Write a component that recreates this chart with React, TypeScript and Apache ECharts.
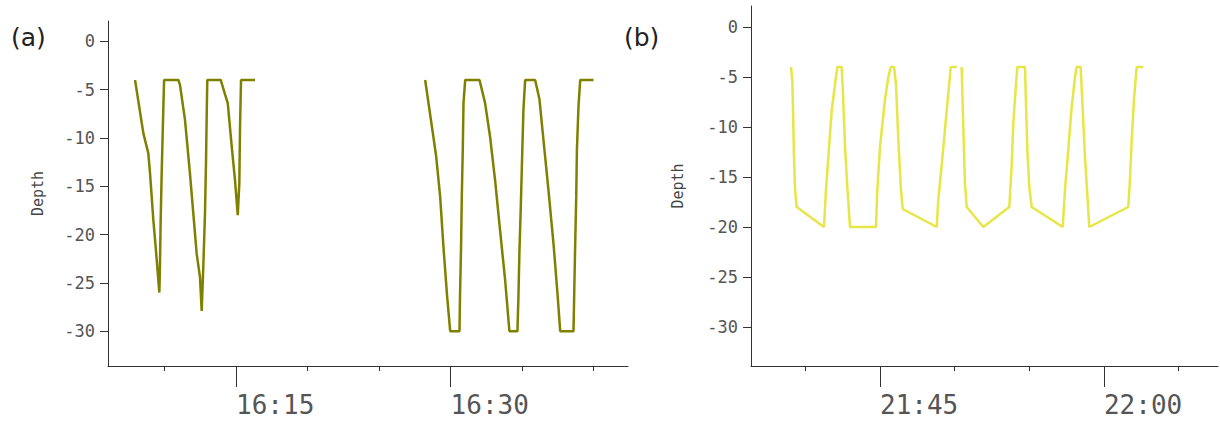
import React, { useEffect, useRef } from "react";
import * as echarts from "echarts";

// Panel (a): minutes after 16:00, depth
const aTimes = [
  7.94, 8.52, 8.87, 8.99, 9.22, 9.41, 9.64, 9.68, 9.73, 9.80, 9.88, 9.97, 10.97,
  11.08, 11.43, 11.78, 12.25, 12.48, 12.60, 12.71, 12.83, 12.90, 12.95, 12.99, 13.93,
  14.23, 14.42, 14.70, 14.93, 15.12, 15.23, 15.28, 15.35, 16.33,
  22.0,
  28.22, 28.69, 28.99, 29.27, 29.50, 29.74, 29.97, 30.62, 30.66, 30.73, 30.78, 30.85, 30.90, 31.02, 32.02,
  32.41, 32.76, 33.11, 33.46, 33.81, 34.11, 34.67, 34.74, 34.81, 34.91, 35.00, 35.09, 35.21, 35.91,
  36.21, 36.49, 36.84, 37.19, 37.47, 37.66, 38.59, 38.64, 38.71, 38.78, 38.83, 38.94, 39.06, 39.99];
const aDepths: (number | null)[] = [
  -4, -9.5, -11.6, -13.7, -18.5, -21.8, -26, -23.4, -18.7, -13.8, -9.1, -4, -4,
  -4.5, -8.1, -13.7, -22, -24.4, -27.9, -23.4, -17.8, -12.6, -7.6, -4, -4,
  -5.5, -6.4, -10.9, -14.4, -18, -14.7, -8.8, -4, -4,
  null,
  -4, -8.8, -11.9, -16.1, -21.3, -26.1, -30, -30, -26.1, -21.3, -16.2, -11.2, -6.4, -4, -4,
  -6.4, -9.9, -14.4, -19.6, -24.7, -30, -30, -26.5, -21.8, -16.9, -11.9, -7.1, -4, -4,
  -6, -10.2, -15.4, -20.9, -26.1, -30, -30, -26.1, -20.9, -16.1, -11.2, -6.7, -4, -4];

// Panel (b): minutes after 21:00, depth
const bTimes = [
  39.04, 39.13, 39.19, 39.24, 39.31, 39.42, 41.25, 41.38, 41.77, 41.99, 42.14, 42.43,
  42.50, 42.66, 42.81, 42.99, 44.73, 44.82, 45.00, 45.33, 45.56, 45.72, 45.94,
  46.07, 46.23, 46.39, 46.52, 48.80, 48.90, 49.13, 49.35, 49.57, 49.74, 50.14,
  50.3,
  50.47, 50.58, 50.69, 50.81, 51.92, 53.66, 53.82, 53.93, 54.11, 54.20, 54.71,
  54.78, 54.87, 55.00, 55.16, 57.24, 57.39, 57.61, 57.84, 58.06, 58.17, 58.44,
  58.57, 58.73, 58.88, 59.02, 61.63, 61.74, 61.86, 62.01, 62.19, 62.64];
const bDepths: (number | null)[] = [
  -4, -5.5, -9.3, -13, -16.3, -18, -20, -16.3, -8.3, -5.7, -4, -4,
  -5.9, -12, -16, -20, -20, -16.3, -12, -7.3, -5, -4, -4,
  -5.7, -11.3, -16, -18.2, -20, -17.3, -13.9, -10.3, -6.7, -4, -4,
  null,
  -4, -10, -15.6, -18, -20, -18, -13.9, -9.6, -5.7, -4, -4,
  -7.7, -12.3, -16, -18, -20, -16.3, -12.3, -8, -5, -4, -4,
  -8, -13, -16.6, -20, -18, -15.3, -11.3, -7.3, -4, -4];

const yTicks = [-30, -25, -20, -15, -10, -5, 0];
const aMinor = [10, 20, 25, 35, 40];
const aMajor = [15, 30];
const bMinor = [40, 50, 55, 65];
const bMajor = [45, 60];

const pad = (n: number) => (n < 10 ? "0" : "") + n;

export default function App() {
  const ref = useRef<HTMLDivElement>(null);
  useEffect(() => {
    const chart = echarts.init(ref.current!, null, { renderer: "svg" });
    const axisColor = "#333";
    const mono = "DejaVu Sans Mono";
    const xMinor = (grid: number, min: number, max: number, ticks: number[]) => ({
      type: "value", gridIndex: grid, min, max, position: "bottom",
      axisLine: { show: true, onZero: false, lineStyle: { color: axisColor, width: 1 } },
      axisTick: { show: true, customValues: ticks, length: 5, lineStyle: { color: axisColor } },
      axisLabel: { show: false },
      splitLine: { show: false },
    });
    const xMajor = (grid: number, min: number, max: number, ticks: number[], base: number) => ({
      type: "value", gridIndex: grid, min, max, position: "bottom",
      axisLine: { show: false, onZero: false },
      axisTick: { show: true, customValues: ticks, length: 21, lineStyle: { color: axisColor } },
      axisLabel: {
        show: true, customValues: ticks, align: "left", margin: 26,
        fontFamily: mono, fontSize: 26, color: "#555",
        formatter: (v: number) => {
          const h = base + Math.floor(v / 60);
          return h + ":" + pad(Math.round(v % 60));
        },
      },
      splitLine: { show: false },
    });
    const yAx = (grid: number, min: number, max: number, gap: number) => ({
      type: "value", gridIndex: grid, min, max,
      name: "Depth", nameLocation: "middle", nameGap: gap,
      nameTextStyle: { fontFamily: mono, fontSize: 15, color: "#444" },
      axisLine: { show: true, onZero: false, lineStyle: { color: axisColor, width: 1 } },
      axisTick: { show: true, customValues: yTicks, length: 8, lineStyle: { color: axisColor } },
      axisLabel: { show: true, customValues: yTicks, margin: 13, fontFamily: mono, fontSize: 17, color: "#555" },
      splitLine: { show: false },
    });
    chart.setOption({
      animation: false,
      grid: [
        { left: 108, top: 21, width: 520, height: 345 },
        { left: 751, top: 6, width: 467, height: 360 },
      ],
      xAxis: [
        xMinor(0, 6.05, 42.4, aMinor),
        xMajor(0, 6.05, 42.4, aMajor, 16),
        xMinor(1, 36.36, 67.64, bMinor),
        xMajor(1, 36.36, 67.64, bMajor, 21),
      ],
      yAxis: [yAx(0, -33.6, 2.1, 63), yAx(1, -33.9, 2.1, 66)],
      graphic: [
        { type: "text", left: 11, top: 25, style: { text: "(a)", fontFamily: "DejaVu Sans", fontSize: 25, fill: "#222" } },
        { type: "text", left: 624, top: 25, style: { text: "(b)", fontFamily: "DejaVu Sans", fontSize: 25, fill: "#222" } },
      ],
      series: [
        {
          type: "line", xAxisIndex: 0, yAxisIndex: 0, showSymbol: false, connectNulls: false,
          lineStyle: { color: "#808000", width: 2.5 },
          data: aTimes.map((t, i) => [t, aDepths[i]]),
        },
        {
          type: "line", xAxisIndex: 2, yAxisIndex: 1, showSymbol: false, connectNulls: false,
          lineStyle: { color: "#e6e646", width: 2.5 },
          data: bTimes.map((t, i) => [t, bDepths[i]]),
        },
      ],
    });
    return () => chart.dispose();
  }, []);
  return <div ref={ref} style={{ width: 1220, height: 422, position: "absolute", left: 0, top: 0 }} />;
}
